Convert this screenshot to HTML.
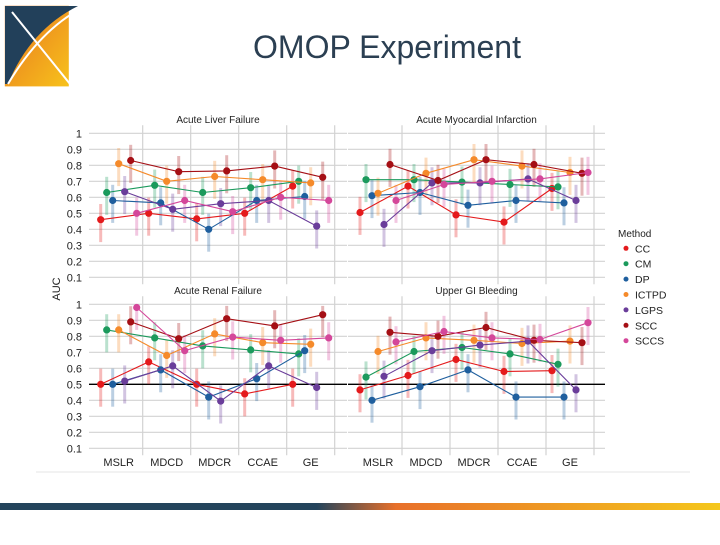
<!DOCTYPE html>
<html><head><meta charset="utf-8"><style>
body{margin:0;width:720px;height:540px;background:#fff;overflow:hidden;font-family:"Liberation Sans",sans-serif}
svg text{font-family:"Liberation Sans",sans-serif}
</style></head><body>
<svg id="s" width="720" height="540" viewBox="0 0 720 540">
<defs>
<linearGradient id="lg" x1="0" y1="0" x2="1" y2="1"><stop offset="0" stop-color="#e8741f"/><stop offset="1" stop-color="#f7c21c"/></linearGradient>
<linearGradient id="bar" x1="0" y1="0" x2="1" y2="0"><stop offset="0" stop-color="#24445c"/><stop offset="0.44" stop-color="#24445c"/><stop offset="0.55" stop-color="#e8702a"/><stop offset="1" stop-color="#f5c71c"/></linearGradient>
</defs>
<g>
<rect x="6" y="8" width="80" height="112" fill="url(#lg)" transform="scale(0.8,0.72)"/>
<path d="M5 6 L78 6 Q30 30 8 84 L5 84 Z" fill="#22405a"/>
<path d="M12 12 L70 84 M8 84 Q40 30 82 8" stroke="#fff" stroke-width="2" fill="none"/>
</g>
<text x="387" y="58" font-size="32" fill="#2b3f52" text-anchor="middle">OMOP Experiment</text>
<line x1="36" y1="472" x2="690" y2="472" stroke="#e4e4e4"/>
<rect x="0" y="503" width="720" height="7" fill="url(#bar)"/>
<g id="chart"></g>
</svg>
<script>
const methods=["CC","CM","DP","ICTPD","LGPS","SCC","SCCS"];
const colors=["#e41a1c","#1b9a5c","#1f5f9e","#f58a2a","#6a3d9a","#a50f15","#d4479a"];
const datasets=["MSLR","MDCD","MDCR","CCAE","GE"];
const yTicks=[1,0.9,0.8,0.7,0.6,0.5,0.4,0.3,0.2,0.1];
const panelTitles=["Acute Liver Failure","Acute Myocardial Infarction","Acute Renal Failure","Upper GI Bleeding"];
// values[method][dataset]
const alf=[[0.46,0.50,0.465,0.50,0.67],[0.63,0.675,0.63,0.66,0.70],[0.58,0.565,0.40,0.58,0.605],[0.81,0.70,0.73,0.71,0.69],[0.635,0.525,0.56,0.58,0.42],[0.83,0.76,0.765,0.795,0.725],[0.50,0.58,0.51,0.60,0.58]];
const ami=[[0.505,0.67,0.49,0.445,0.655],[0.71,0.71,0.695,0.68,0.665],[0.61,0.63,0.55,0.58,0.565],[0.625,0.75,0.835,0.795,0.755],[0.43,0.69,0.69,0.715,0.58],[0.805,0.705,0.835,0.805,0.75],[0.58,0.68,0.70,0.715,0.755]];
const arf=[[0.50,0.64,0.50,0.44,0.50],[0.84,0.79,0.74,0.715,0.69],[0.50,0.59,0.42,0.535,0.71],[0.84,0.68,0.815,0.76,0.75],[0.52,0.615,0.395,0.615,0.48],[0.89,0.785,0.91,0.865,0.935],[0.98,0.71,0.795,0.775,0.79]];
const ugib=[[0.465,0.555,0.655,0.58,0.585],[0.545,0.705,0.73,0.69,0.625],[0.40,0.485,0.59,0.42,0.42],[0.705,0.79,0.775,0.755,0.77],[0.55,0.71,0.745,0.77,0.465],[0.825,0.80,0.855,0.775,0.76],[0.765,0.83,0.79,0.78,0.885]];
const panelData=[alf,ami,arf,ugib];
const spread=0.14;
const NS="http://www.w3.org/2000/svg";
const g=document.getElementById("chart");
function mk(t,a,p){const e=document.createElementNS(NS,t);for(const k in a)e.setAttribute(k,a[k]);(p||g).appendChild(e);return e;}
const panels=[{x0:89,x1:347,c0:118.7,top:133.3,ty:119,xl:false},{x0:348,x1:605,c0:378,top:133.3,ty:119,xl:false},{x0:89,x1:347,c0:118.7,top:304.3,ty:290,xl:true},{x0:348,x1:605,c0:378,top:304.3,ty:290,xl:true}];
panels.forEach((P,pi)=>{
  const pg=mk("g",{});
  
  
  const yS=v=>P.top+(1-v)*160;
  const xS=(d,m)=>P.c0+d*48+(m-3)*6;
  const bottom=yS(0.1)+7;
  yTicks.forEach(t=>{
    const l=mk("line",{x1:P.x0,x2:P.x1,y1:yS(t),y2:yS(t),stroke:"#d2d2d2","stroke-width":1.2},pg);
    
    
    if(pi%2==0){const tx=mk("text",{x:82,y:yS(t)+4,"font-size":11,"text-anchor":"end",fill:"#222"},pg);tx.textContent=String(t);
      
      }
  });
  for(let d=0;d<5;d++){
    const l=mk("line",{x1:P.c0+d*48+24,x2:P.c0+d*48+24,y1:P.top-8,y2:bottom,stroke:"#d2d2d2","stroke-width":1.2},pg);
    
    
    if(P.xl){const tx=mk("text",{x:P.c0+d*48,y:466,"font-size":11,"text-anchor":"middle",fill:"#222"},pg);tx.textContent=datasets[d];
      
      }
  }
  if(P.xl){const l=mk("line",{x1:P.x0,x2:P.x1,y1:yS(0.5),y2:yS(0.5),stroke:"#000","stroke-width":1.3},pg);
    
    }
  const tt=mk("text",{x:(P.x0+P.x1)/2,y:P.ty+4,"font-size":10,"text-anchor":"middle",fill:"#222"},pg);tt.textContent=panelTitles[pi];
  
  
  const data=panelData[pi];
  // faded strips
  data.forEach((row,m)=>row.forEach((v,d)=>{
    const lo=Math.max(0.12,v-spread),hi=Math.min(0.99,v+spread*0.7);
    const r=mk("rect",{x:xS(d,m)-1.5,y:yS(hi),width:3,height:yS(lo)-yS(hi),fill:colors[m],opacity:0.3},pg);
    
    
  }));
  data.forEach((row,m)=>{
    const pts=row.map((v,d)=>xS(d,m)+","+yS(v)).join(" ");
    const pl=mk("polyline",{points:pts,fill:"none",stroke:colors[m],"stroke-width":1.1},pg);
    
    
    row.forEach((v,d)=>{
      const c=mk("circle",{cx:xS(d,m),cy:yS(v),r:3.6,fill:colors[m]},pg);
      
      
    });
  });
});
const yt=mk("text",{x:0,y:0,"font-size":11,"text-anchor":"middle",fill:"#222",transform:"translate(60,289) rotate(-90)"});yt.textContent="AUC";


const lg=mk("g",{});


const lt=mk("text",{x:618,y:237,"font-size":10,fill:"#222"},lg);lt.textContent="Method";


methods.forEach((m,i)=>{
  const y=248.3+i*15.4;
  const c=mk("circle",{cx:626,cy:y,r:2.5,fill:colors[i]},lg);
  
  
  const t=mk("text",{x:635,y:y+4,"font-size":10.5,fill:"#222"},lg);t.textContent=m;
  
  
});
</script>
</body></html>
